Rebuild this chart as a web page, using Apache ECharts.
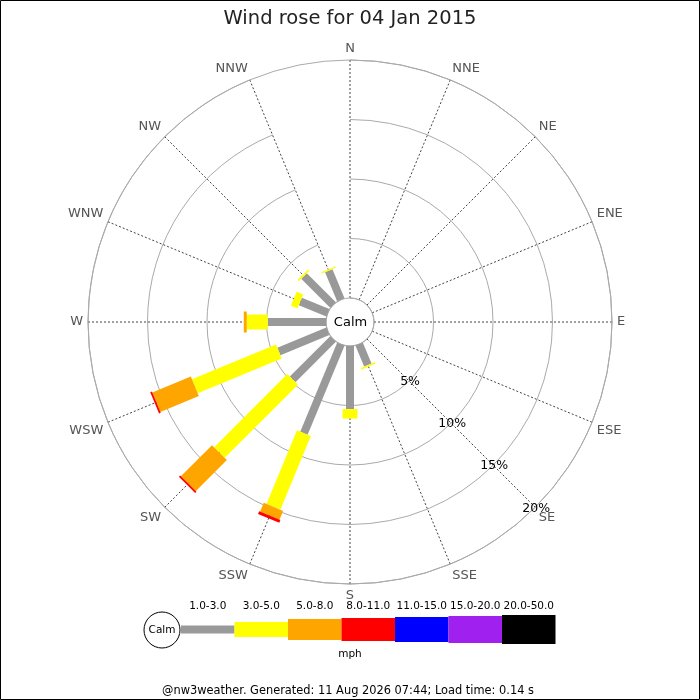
<!DOCTYPE html>
<html>
<head>
  <meta charset="utf-8">
  <title>Wind rose</title>
  <script src="https://cdn.jsdelivr.net/npm/echarts@6/dist/echarts.min.js"></script>
  <style>
    html, body { margin: 0; padding: 0; background: #fff; }
    #main { width: 700px; height: 700px; }
  </style>
</head>
<body>
  <div id="main"></div>
  <script type="text/javascript">
    // directions, clockwise from north
    var directions = ['N', 'NNE', 'NE', 'ENE', 'E', 'ESE', 'SE', 'SSE',
                      'S', 'SSW', 'SW', 'WSW', 'W', 'WNW', 'NW', 'NNW'];
    var speedBins = ['1.0-3.0', '3.0-5.0', '5.0-8.0', '8.0-11.0', '11.0-15.0', '15.0-20.0', '20.0-50.0'];

    // % of time per direction for each speed bin (mph)
    var mph1to3   = [0, 0, 0, 0, 0, 0, 0, 1.9, 5.3, 8.1, 4.8, 4.45, 4.9, 2.5, 3.45, 2.65];
    var mph3to5   = [0, 0, 0, 0, 0, 0, 0, 0.15, 0.8, 6.7, 8.7, 7.65, 1.76, 0.6, 0.15, 0.12];
    var mph5to8   = [0, 0, 0, 0, 0, 0, 0, 0, 0, 0.8, 3.7, 3.5, 0.25, 0, 0, 0];
    var mph8to11  = [0, 0, 0, 0, 0, 0, 0, 0, 0, 0.25, 0.15, 0.15, 0, 0, 0, 0];
    var mph11to15 = [0, 0, 0, 0, 0, 0, 0, 0, 0, 0, 0, 0, 0, 0, 0, 0];
    var mph15to20 = [0, 0, 0, 0, 0, 0, 0, 0, 0, 0, 0, 0, 0, 0, 0, 0];
    var mph20to50 = [0, 0, 0, 0, 0, 0, 0, 0, 0, 0, 0, 0, 0, 0, 0, 0];

    var radiusTicks = [5, 10, 15, 20];
    var radiusTickLabels = ['5%', '10%', '15%', '20%'];

    var binValues = [mph1to3, mph3to5, mph5to8, mph8to11, mph11to15, mph15to20, mph20to50];
    var binColors = ['#999999', '#ffff00', '#ffa500', '#ff0000', '#0000ff', '#a020f0', '#000000'];
    var binWidths = [8, 15, 21, 23, 25, 27, 29];
    var FONT = 'DejaVu Sans';

    var myChart = echarts.init(document.getElementById('main'));

    // stack the bins outward along each direction
    var cumulative = directions.map(function () { return 0; });
    var series = binValues.map(function (vals, b) {
      var data = vals.map(function (v, i) {
        var start = cumulative[i];
        cumulative[i] += v;
        return [i, start, cumulative[i]];
      });
      return {
        type: 'custom',
        name: speedBins[b],
        coordinateSystem: 'polar',
        encode: { angle: 0, radius: 2 },
        silent: true,
        data: data,
        renderItem: function (params, api) {
          var idx = api.value(0), r0 = api.value(1), r1 = api.value(2);
          if (!(r1 > r0)) return;
          var p0 = api.coord([r0, idx]);
          var p1 = api.coord([r1, idx]);
          var cs = params.coordSys;
          var dx = p1[0] - cs.cx, dy = p1[1] - cs.cy;
          var len = Math.sqrt(dx * dx + dy * dy);
          var nx = -dy / len * binWidths[b] / 2, ny = dx / len * binWidths[b] / 2;
          return {
            type: 'polygon',
            shape: { points: [
              [p0[0] + nx, p0[1] + ny], [p1[0] + nx, p1[1] + ny],
              [p1[0] - nx, p1[1] - ny], [p0[0] - nx, p0[1] - ny]
            ] },
            style: { fill: binColors[b] }
          };
        }
      };
    });

    // percentage labels along the SE spoke
    series.push({
      type: 'custom',
      coordinateSystem: 'polar',
      encode: { angle: 0, radius: 1 },
      silent: true,
      z: 10,
      data: radiusTicks.map(function (v, i) { return [directions.indexOf('SE'), v, i]; }),
      renderItem: function (params, api) {
        var p = api.coord([api.value(1), api.value(0)]);
        return {
          type: 'text',
          style: {
            x: p[0] + 1, y: p[1] + 1, text: radiusTickLabels[api.value(2)],
            align: 'center', verticalAlign: 'middle',
            fill: '#000', fontSize: 12.5, fontFamily: FONT
          }
        };
      }
    });

    // legend drawn under the rose
    var legendX = 181, segW = 53.5, legendY = 629.5;
    var graphics = [
      { type: 'rect', shape: { x: 0.5, y: 0.5, width: 699, height: 699 },
        style: { fill: null, stroke: '#000', lineWidth: 1 }, z: 100 },
      { type: 'text', x: 350.5, y: 322.5,
        style: { text: 'Calm', align: 'center', verticalAlign: 'middle', fill: '#000', fontSize: 13, fontFamily: FONT } },
      { type: 'circle', shape: { cx: 162, cy: legendY + 0.5, r: 18 },
        style: { fill: '#fff', stroke: '#000', lineWidth: 1 } },
      { type: 'text', x: 162, y: legendY + 0.5,
        style: { text: 'Calm', align: 'center', verticalAlign: 'middle', fill: '#000', fontSize: 10.5, fontFamily: FONT } },
      { type: 'text', x: 350, y: 654,
        style: { text: 'mph', align: 'center', verticalAlign: 'middle', fill: '#000', fontSize: 10.5, fontFamily: FONT } },
      { type: 'text', x: 348, y: 691,
        style: { text: '@nw3weather. Generated: 11 Aug 2026 07:44; Load time: 0.14 s', align: 'center',
                 verticalAlign: 'middle', fill: '#000', fontSize: 11.4, fontFamily: FONT } }
    ];
    speedBins.forEach(function (label, b) {
      var x0 = legendX + b * segW;
      graphics.push({ type: 'rect',
        shape: { x: x0, y: legendY - binWidths[b] / 2, width: segW, height: binWidths[b] },
        style: { fill: binColors[b] } });
      graphics.push({ type: 'text', x: x0 + segW / 2, y: 606.5,
        style: { text: label, align: 'center', verticalAlign: 'middle', fill: '#000', fontSize: 10.5, fontFamily: FONT } });
    });

    var option = {
      animation: false,
      backgroundColor: '#fff',
      title: {
        text: 'Wind rose for 04 Jan 2015',
        left: 'center',
        top: 4,
        textStyle: { fontFamily: FONT, fontSize: 19.5, fontWeight: 'normal', color: '#222' }
      },
      polar: { center: ['50%', 322], radius: [24, 262] },
      angleAxis: {
        type: 'category',
        data: directions,
        boundaryGap: false,
        startAngle: 90,
        clockwise: true,
        axisLine: { lineStyle: { color: '#aaaaaa', width: 1 } },
        axisTick: { show: false },
        axisLabel: { margin: 5, color: '#555', fontSize: 13, fontFamily: FONT },
        splitLine: { show: true, lineStyle: { color: '#444', width: 1, type: [2, 2] } }
      },
      radiusAxis: {
        type: 'value',
        min: 0,
        max: 20,
        interval: 5,
        axisLine: { show: false },
        axisTick: { show: false },
        axisLabel: { show: false },
        splitLine: { show: true, lineStyle: { color: '#aaaaaa', width: 1 } }
      },
      graphic: graphics,
      series: series
    };

    myChart.setOption(option);
  </script>
</body>
</html>
